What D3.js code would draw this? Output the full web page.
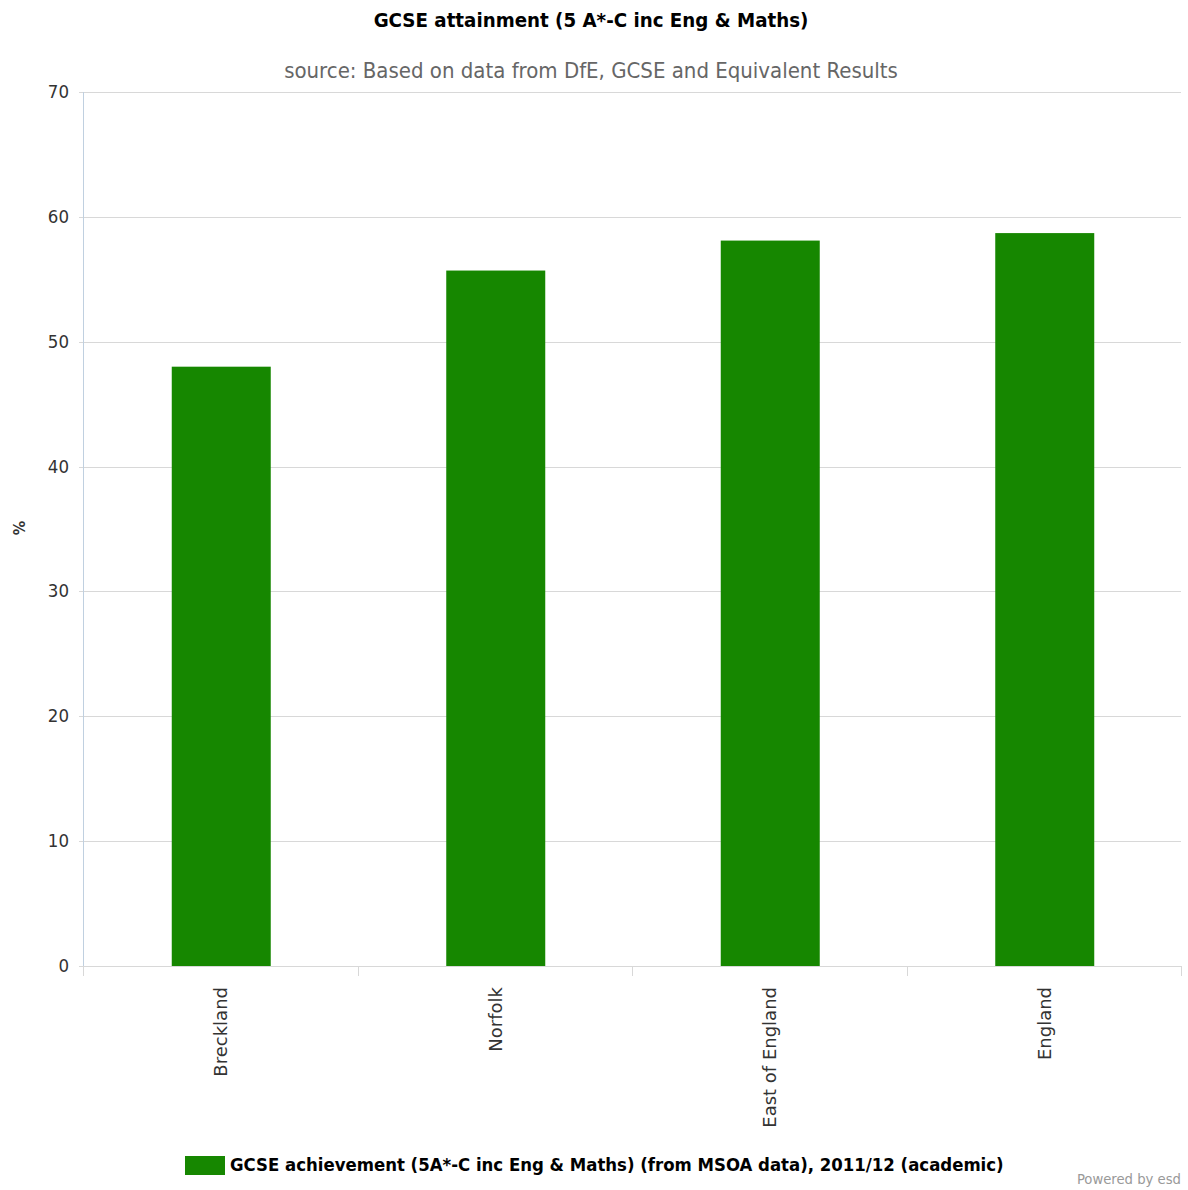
<!DOCTYPE html>
<html><head><meta charset="utf-8">
<script src="https://cdn.jsdelivr.net/npm/d3@7"></script>
<style>body{margin:0;background:#fff;} svg{display:block;}</style>
</head><body>
<svg id="c" width="1188" height="1190"></svg>
<script>
const categories = ["Breckland", "Norfolk", "East of England", "England"];
const values = [48.0, 55.7, 58.1, 58.7];
const yTicks = [0, 10, 20, 30, 40, 50, 60, 70];
const title = "GCSE attainment (5 A*-C inc Eng & Maths)";
const subtitle = "source: Based on data from DfE, GCSE and Equivalent Results";
const seriesName = "GCSE achievement (5A*-C inc Eng & Maths) (from MSOA data), 2011/12 (academic)";
const yTitle = "%";

const W = 1188, H = 1190;
const m = {l: 83, r: 1181, t: 92, b: 966};
const font = "'DejaVu Sans Condensed', 'DejaVu Sans', sans-serif";
const font2 = "'DejaVu Sans', sans-serif";
const svg = d3.select("#c");

const x = d3.scaleBand().domain(categories).range([m.l, m.r]).paddingInner(0).paddingOuter(0);
const y = d3.scaleLinear().domain([0, 70]).range([m.b, m.t]);

// gridlines
svg.append("g").selectAll("line").data(yTicks).join("line")
  .attr("x1", m.l - 4).attr("x2", m.r)
  .attr("y1", d => Math.round(y(d)) + 0.5).attr("y2", d => Math.round(y(d)) + 0.5)
  .attr("stroke", "#d8d8d8").attr("stroke-width", 1);

// y axis line
svg.append("line").attr("x1", m.l + 0.5).attr("x2", m.l + 0.5).attr("y1", m.t).attr("y2", m.b)
  .attr("stroke", "#c0d0e0");

// y tick labels
svg.append("g").selectAll("text").data(yTicks).join("text")
  .attr("x", 69).attr("y", d => y(d) + 6)
  .attr("text-anchor", "end").attr("font-family", font).attr("font-size", 18.5)
  .attr("fill", "#333").text(d => d);

// bars
const bw = 99;
svg.append("g").selectAll("rect").data(values).join("rect")
  .attr("x", (d, i) => x(categories[i]) + x.bandwidth() / 2 - bw / 2 + 1)
  .attr("y", d => y(d))
  .attr("width", bw)
  .attr("height", d => y(0) - y(d))
  .attr("fill", "#168700");

// x axis line + ticks
svg.append("line").attr("x1", m.l).attr("x2", m.r).attr("y1", m.b + 0.5).attr("y2", m.b + 0.5)
  .attr("stroke", "#d8d8d8");
const bounds = categories.map(c => x(c)).concat([m.r]);
svg.append("g").selectAll("line").data(bounds).join("line")
  .attr("x1", d => Math.round(d) + 0.5).attr("x2", d => Math.round(d) + 0.5)
  .attr("y1", m.b).attr("y2", m.b + 10)
  .attr("stroke", "#d8d8d8");

// category labels
svg.append("g").selectAll("text").data(categories).join("text")
  .attr("transform", d => `translate(${x(d) + x.bandwidth() / 2 + 7},${m.b + 21}) rotate(-90)`)
  .attr("text-anchor", "end").attr("font-family", font2).attr("font-size", 18)
  .attr("fill", "#333").text(d => d);

// y title
svg.append("text").attr("transform", "translate(25,528) rotate(-90)")
  .attr("text-anchor", "middle").attr("font-family", font).attr("font-size", 16)
  .attr("font-weight", "bold").attr("fill", "#333").text(yTitle);

// title & subtitle
svg.append("text").attr("x", 591).attr("y", 27).attr("text-anchor", "middle")
  .attr("font-family", font).attr("font-size", 20.3).attr("font-weight", "bold")
  .attr("fill", "#000").text(title);
svg.append("text").attr("x", 591).attr("y", 78).attr("text-anchor", "middle")
  .attr("font-family", font).attr("font-size", 22)
  .attr("fill", "#666").text(subtitle);

// legend
svg.append("rect").attr("x", 185).attr("y", 1156).attr("width", 40).attr("height", 19).attr("fill", "#168700");
svg.append("text").attr("x", 230).attr("y", 1171)
  .attr("font-family", font).attr("font-size", 18.4).attr("font-weight", "bold")
  .attr("fill", "#000").text(seriesName);

svg.append("text").attr("x", 1181).attr("y", 1184).attr("text-anchor", "end")
  .attr("font-family", font).attr("font-size", 14.7).attr("fill", "#999").text("Powered by esd");
</script>
</body></html>
